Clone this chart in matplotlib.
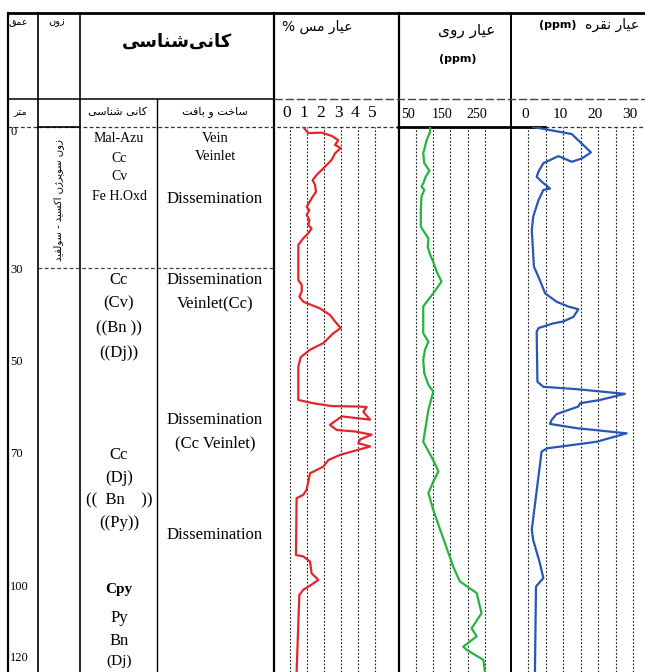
import matplotlib
matplotlib.use("Agg")
import matplotlib.pyplot as plt
import matplotlib.transforms as mtransforms

# ---------------- data ----------------
cu_depth = [0, 1.3, 1.2, 1.9, 2.8, 3.8, 4.5, 5.6, 7.0, 8.8, 10.2, 11.3, 12.3, 13.8, 15.2, 17.0, 17.7, 18.7,
            19.8, 20.9, 21.6, 22.6, 23.7, 25.1, 32.6, 33.6, 35.0, 36.1, 37.2, 38.6, 40.0, 41.4, 42.8, 43.9,
            46.0, 47.4, 49.0, 51.0, 58.1, 58.8, 59.4, 59.5, 59.6, 60.6, 62.3, 62.0, 61.6, 63.4, 64.5, 64.8,
            65.5, 66.5, 67.3, 68.0, 68.7, 69.8, 70.9, 72.3, 73.7, 77.2, 78.3, 79.0, 91.1, 91.4, 92.5, 95.0,
            96.4, 97.4, 98.5, 99.6, 105.6, 116]
cu_pct = [0.78, 1.08, 1.86, 2.45, 2.84, 2.65, 2.98, 2.65, 2.45, 1.96, 1.57, 1.33, 1.47, 1.53, 1.27, 0.98,
          1.14, 0.98, 1.14, 1.08, 1.27, 1.08, 0.78, 0.49, 0.49, 0.69, 0.69, 0.55, 0.78, 1.76, 2.35, 2.65,
          2.98, 2.55, 1.96, 1.18, 0.63, 0.49, 0.49, 1.37, 2.45, 4.02, 4.51, 4.31, 4.71, 4.02, 3.04, 2.35,
          2.75, 3.82, 4.8, 4.12, 4.02, 4.71, 4.02, 2.94, 2.25, 1.96, 1.18, 0.98, 0.78, 0.39, 0.35, 0.78,
          1.18, 1.27, 1.67, 1.27, 0.78, 0.55, 0.49, 0.39]

zn_depth = [0, 1.0, 2.8, 5.6, 7.7, 9.3, 10.6, 12.0, 12.7, 13.4, 14.8, 17.7, 21.2, 22.6, 23.7, 25.5, 27.2,
            28.7, 30.8, 32.9, 35.4, 37.2, 38.2, 43.9, 45.7, 47.4, 49.6, 52.4, 54.9, 56.3, 60.2, 67.0, 70.9,
            73.3, 75.5, 77.9, 81.5, 93.6, 96.7, 99.2, 103.5, 106.7, 108.4, 110.6, 111.3, 113.4, 116]
zn_ppm = [91, 91, 81, 71, 74, 89, 78, 71, 66, 74, 66, 64, 64, 76, 86, 84, 91, 100, 110, 124, 100, 81, 71,
          71, 86, 76, 71, 74, 86, 100, 86, 71, 100, 115, 100, 86, 100, 158, 177, 226, 240, 211, 226, 187,
          197, 245, 250]

ag_depth = [0, 1.5, 5.4, 6.7, 7.4, 6.2, 7.7, 9.5, 10.6, 11.6, 13.1, 13.4, 15.6, 19.1, 22.0, 26.9, 29.7,
            32.6, 35.4, 37.2, 38.2, 38.8, 40.4, 41.4, 41.8, 42.8, 43.6, 54.2, 55.3, 55.8, 56.8, 58.1, 58.8,
            59.5, 61.1, 62.3, 63.2, 64.1, 65.2, 67.0, 68.4, 69.1, 85.7, 87.9, 92.8, 96.0, 97.8, 116]
ag_ppm = [1.4, 12.4, 17.9, 15.3, 12.4, 8.6, 4.3, 2.9, 2.4, 3.8, 6.2, 4.3, 2.9, 1.4, 1.0, 1.4, 1.6, 3.3,
          4.8, 8.1, 11.4, 14.3, 12.9, 10.0, 7.1, 2.9, 2.4, 2.6, 4.3, 13.8, 27.6, 20.5, 14.8, 14.3, 8.1,
          6.7, 6.2, 13.8, 28.1, 19.5, 5.3, 3.8, 1.0, 1.4, 3.3, 4.3, 2.2, 1.9]

cu_ticks = [0, 1, 2, 3, 4, 5]
zn_grid = [50, 100, 150, 200, 250]
zn_ticks = [50, 150, 250]
ag_grid = [0, 5, 10, 15, 20, 25, 30]
ag_ticks = [0, 10, 20, 30]
depth_labels = ["0", "30", "50", "70", "100", "120"]
depth_label_pos = [1.0, 30.5, 50, 69.5, 98, 113]

# ---------------- Persian shaping helper ----------------
FORMS = {
    'ا': (0xFE8D, 0xFE8E, None, None), 'ب': (0xFE8F, 0xFE90, 0xFE91, 0xFE92),
    'پ': (0xFB56, 0xFB57, 0xFB58, 0xFB59), 'ت': (0xFE95, 0xFE96, 0xFE97, 0xFE98),
    'خ': (0xFEA5, 0xFEA6, 0xFEA7, 0xFEA8), 'د': (0xFEA9, 0xFEAA, None, None),
    'ر': (0xFEAD, 0xFEAE, None, None), 'ز': (0xFEAF, 0xFEB0, None, None),
    'ژ': (0xFB8A, 0xFB8B, None, None), 'س': (0xFEB1, 0xFEB2, 0xFEB3, 0xFEB4),
    'ش': (0xFEB5, 0xFEB6, 0xFEB7, 0xFEB8), 'ع': (0xFEC9, 0xFECA, 0xFECB, 0xFECC),
    'ف': (0xFED1, 0xFED2, 0xFED3, 0xFED4), 'ق': (0xFED5, 0xFED6, 0xFED7, 0xFED8),
    'ک': (0xFB8E, 0xFB8F, 0xFB90, 0xFB91), 'ل': (0xFEDD, 0xFEDE, 0xFEDF, 0xFEE0),
    'م': (0xFEE1, 0xFEE2, 0xFEE3, 0xFEE4), 'ن': (0xFEE5, 0xFEE6, 0xFEE7, 0xFEE8),
    'ه': (0xFEE9, 0xFEEA, 0xFEEB, 0xFEEC), 'و': (0xFEED, 0xFEEE, None, None),
    'ی': (0xFBFC, 0xFBFD, 0xFBFE, 0xFBFF),
}


def rtl(s):
    out = []
    n = len(s)
    for i, c in enumerate(s):
        if c not in FORMS:
            if c != '\u200c':
                out.append(c)
            continue
        prev = s[i - 1] if i > 0 else None
        nxt = s[i + 1] if i < n - 1 else None
        f = FORMS[c]
        jp = prev in FORMS and FORMS[prev][2] is not None
        jn = nxt in FORMS and f[2] is not None
        if jp and jn:
            code = f[3]
        elif jp:
            code = f[1]
        elif jn:
            code = f[2]
        else:
            code = f[0]
        out.append(chr(code))
    return ''.join(out)[::-1]


FA = ['DejaVu Sans']
SERIF = ['Liberation Serif', 'DejaVu Serif']

# ---------------- figure ----------------
W, H = 645, 672
fig = plt.figure(figsize=(W / 100, H / 100), dpi=100)
bg = fig.add_axes([0, 0, 1, 1])
bg.set_xlim(0, W)
bg.set_ylim(H, 0)
bg.axis('off')

TOP, SUB, DATA = 12.5, 99, 127
K = 'black'
# vertical table lines
for x, y0, lw in [(8, TOP, 1.6), (38, TOP, 1.2), (80, TOP, 1.2), (157, SUB, 1.0),
                  (274, TOP, 1.6), (398.5, TOP, 1.6), (511, TOP, 1.4)]:
    bg.plot([x, x], [y0, H], color=K, lw=lw)
# horizontal lines
bg.plot([8, W], [TOP, TOP], color=K, lw=2.0)
bg.plot([8, 274], [SUB, SUB], color=K, lw=1.1)
bg.plot([274, W], [SUB, SUB], color='#444', lw=1.0, ls=(0, (6, 2)))
bg.plot([8, 398], [DATA, DATA], color='#333', lw=0.9, ls=(0, (3, 2)))
bg.plot([38, 80], [DATA, DATA], color=K, lw=1.2)
bg.plot([398, 545], [DATA, DATA], color=K, lw=2.0)
bg.plot([545, W], [DATA, DATA], color='#333', lw=0.9, ls=(0, (3, 2)))
bg.plot([38, 274], [268, 268], color='#444', lw=0.9, ls=(0, (3, 2)))

# header texts (Persian)
bg.text(18, 22, rtl('عمق'), fontsize=7, family=FA, ha='center', va='center')
bg.text(57, 22, rtl('زون'), fontsize=7, family=FA, ha='center', va='center')
bg.text(177, 42, rtl('کانی\u200cشناسی'), fontsize=13, family=FA, fontweight='bold', ha='center', va='center')
bg.text(20, 112, rtl('متر'), fontsize=7, family=FA, ha='center', va='center')
bg.text(118, 112, rtl('کانی شناسی'), fontsize=8, family=FA, ha='center', va='center')
bg.text(215, 112, rtl('ساخت و بافت'), fontsize=8, family=FA, ha='center', va='center')
bg.text(317, 27, '% ' + rtl('عیار مس'), fontsize=10, family=FA, ha='center', va='center')
bg.text(467, 31, rtl('عیار روی'), fontsize=11, family=FA, ha='center', va='center')
bg.text(458, 59, '(ppm)', fontsize=8, family=FA, fontweight='bold', ha='center', va='center')
bg.text(612, 25, rtl('عیار نقره'), fontsize=10, family=FA, ha='center', va='center')
bg.text(558, 25, '(ppm)', fontsize=8, family=FA, fontweight='bold', ha='center', va='center')
bg.text(59, 200, rtl('زون سوپرژن اکسید - سولفید'), fontsize=7.2, family=FA, rotation=90,
        ha='center', va='center')

# mineralogy / texture texts
col_min, col_tex = 119, 215
for txt, y, fs, wt in [('Mal-Azu', 138, 10, 'normal'), ('Cc', 158, 10, 'normal'), ('Cv', 177, 10, 'normal'),
                       ('Fe H.Oxd', 197, 10, 'normal'),
                       ('Cc', 280, 12, 'normal'), ('(Cv)', 303, 12, 'normal'), ('((Bn ))', 328, 12, 'normal'),
                       ('((Dj))', 353, 12, 'normal'),
                       ('Cc', 455, 12, 'normal'), ('(Dj)', 478, 12, 'normal'), ('((  Bn    ))', 500, 12, 'normal'),
                       ('((Py))', 523, 12, 'normal'),
                       ('Cpy', 590, 11, 'bold'), ('Py', 618, 12, 'normal'), ('Bn', 641, 12, 'normal'),
                       ('(Dj)', 661, 11, 'normal')]:
    bg.text(col_min, y, txt, fontsize=fs, family=SERIF, fontweight=wt, ha='center', va='center')
for txt, y, fs in [('Vein', 138, 10.5), ('Veinlet', 157, 10.5), ('Dissemination', 199, 12),
                   ('Dissemination', 280, 12), ('Veinlet(Cc)', 303, 12),
                   ('Dissemination', 420, 12), ('(Cc Veinlet)', 443, 12),
                   ('Dissemination', 535, 12)]:
    bg.text(col_tex, y, txt, fontsize=fs, family=SERIF, ha='center', va='center')

# ---------------- data panels ----------------
DMAX = 116.0
ph = (H - DATA) / H


def panel(x0, x1, xlim):
    ax = fig.add_axes([x0 / W, 0, (x1 - x0) / W, ph])
    ax.set_xlim(*xlim)
    ax.set_ylim(DMAX, 0)
    ax.patch.set_alpha(0)
    for s in ax.spines.values():
        s.set_visible(False)
    ax.tick_params(axis='y', left=False, labelleft=False)
    ax.xaxis.tick_top()
    ax.tick_params(axis='x', length=0, pad=4)
    return ax


def shift_labels(ax, dx_px):
    off = mtransforms.ScaledTranslation(dx_px / 100, 0, fig.dpi_scale_trans)
    for lab in ax.get_xticklabels():
        lab.set_transform(lab.get_transform() + off)


# depth column
axd = panel(8, 38, (0, 1))
axd.set_xticks([])
for lab, d in zip(depth_labels, depth_label_pos):
    axd.text(0.08, d, lab, fontsize=9, family=SERIF, ha='left', va='center')

grid_kw = dict(color='#222', lw=0.8, ls=(0, (1.6, 1.6)), zorder=1)

ax_cu = panel(274, 398.5, (-0.94, 6.38))
for v in cu_ticks:
    ax_cu.axvline(v, **grid_kw)
ax_cu.set_xticks(cu_ticks)
ax_cu.set_xticklabels([str(v) for v in cu_ticks], fontsize=12.5, family=SERIF)
shift_labels(ax_cu, -3)
ax_cu.plot(cu_pct, cu_depth, color='#e3262b', lw=1.6, zorder=3)

ax_zn = panel(398.5, 511, (-0.7, 325.4))
for v in zn_grid:
    ax_zn.axvline(v, **grid_kw)
ax_zn.set_xticks(zn_ticks)
ax_zn.set_xticklabels([str(v) for v in zn_ticks], fontsize=10, family=SERIF)
shift_labels(ax_zn, -8)
ax_zn.plot(zn_ppm, zn_depth, color='#27b341', lw=1.6, zorder=3)

ax_ag = panel(511, 645, (-4.94, 33.34))
for v in ag_grid:
    ax_ag.axvline(v, **grid_kw)
ax_ag.set_xticks(ag_ticks)
ax_ag.set_xticklabels([str(v) for v in ag_ticks], fontsize=11, family=SERIF)
shift_labels(ax_ag, -3)
ax_ag.plot(ag_ppm, ag_depth, color='#2a55b5', lw=1.6, zorder=3)

fig.savefig('out.png', dpi=100)
